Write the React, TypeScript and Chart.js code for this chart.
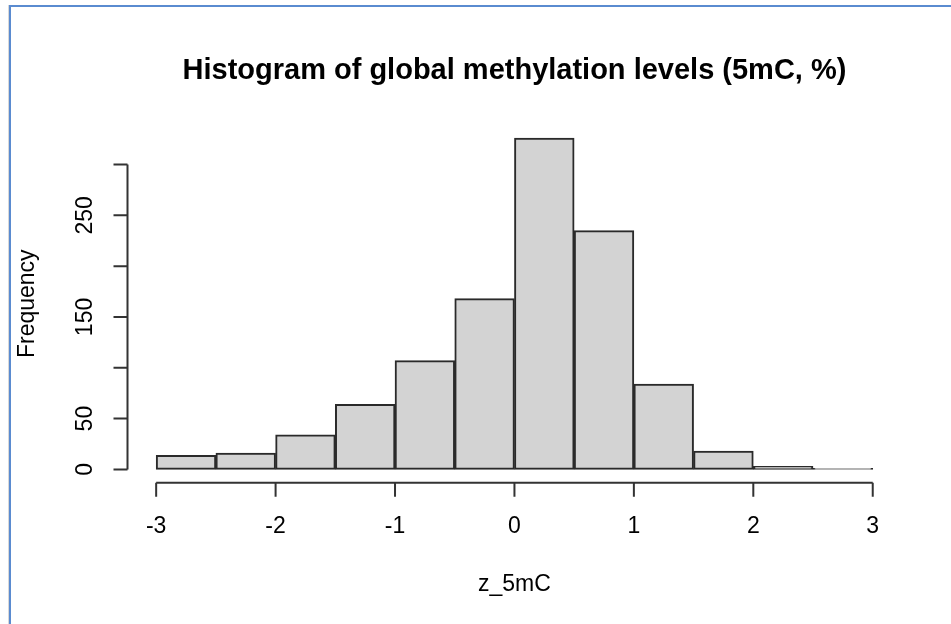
import React, { useEffect, useRef } from "react";
import { Chart, registerables } from "chart.js";

Chart.register(...registerables);

const chartTitle = "Histogram of global methylation levels (5mC, %)";
const xAxisTitle = "z_5mC";
const yAxisTitle = "Frequency";

const binCenters = [-2.75, -2.25, -1.75, -1.25, -0.75, -0.25, 0.25, 0.75, 1.25, 1.75, 2.25, 2.75];
const counts = [14, 16, 34, 64, 107, 168, 326, 235, 84, 18, 3, 1];

const xTicks = [-3, -2, -1, 0, 1, 2, 3];
const xTickLabels = ["-3", "-2", "-1", "0", "1", "2", "3"];
const yTicks = [0, 50, 100, 150, 200, 250, 300];
const yTickLabels = ["0", "50", "", "150", "", "250", ""];

const FONT = '"Liberation Sans", Arial, Helvetica, sans-serif';

const rAxesPlugin = {
  id: "rAxes",
  afterDraw(chart: any) {
    const ctx = chart.ctx as CanvasRenderingContext2D;
    const xs = chart.scales.x;
    const ys = chart.scales.y;
    const area = chart.chartArea;
    ctx.save();
    ctx.strokeStyle = "#333";
    ctx.lineWidth = 2;
    ctx.fillStyle = "#000";

    // x axis
    const axY = area.bottom;
    ctx.beginPath();
    ctx.moveTo(xs.getPixelForValue(xTicks[0]), axY);
    ctx.lineTo(xs.getPixelForValue(xTicks[xTicks.length - 1]), axY);
    xTicks.forEach((t) => {
      const px = xs.getPixelForValue(t);
      ctx.moveTo(px, axY);
      ctx.lineTo(px, axY + 14);
    });
    ctx.stroke();
    ctx.font = `23px ${FONT}`;
    ctx.textAlign = "center";
    ctx.textBaseline = "middle";
    xTicks.forEach((t, i) => {
      ctx.fillText(xTickLabels[i], xs.getPixelForValue(t), axY + 44);
    });

    // y axis
    const axX = area.left;
    ctx.beginPath();
    ctx.moveTo(axX, ys.getPixelForValue(yTicks[0]));
    ctx.lineTo(axX, ys.getPixelForValue(yTicks[yTicks.length - 1]));
    yTicks.forEach((t) => {
      const py = ys.getPixelForValue(t);
      ctx.moveTo(axX, py);
      ctx.lineTo(axX - 14, py);
    });
    ctx.stroke();
    yTicks.forEach((t, i) => {
      if (!yTickLabels[i]) return;
      ctx.save();
      ctx.translate(axX - 42, ys.getPixelForValue(t));
      ctx.rotate(-Math.PI / 2);
      ctx.fillText(yTickLabels[i], 0, 0);
      ctx.restore();
    });

    // titles
    const cx = (area.left + area.right) / 2;
    const cy = (area.top + area.bottom) / 2;
    ctx.font = `bold 29px ${FONT}`;
    ctx.fillText(chartTitle, cx, 71);
    ctx.font = `23px ${FONT}`;
    ctx.fillText(xAxisTitle, cx, 585);
    ctx.save();
    ctx.translate(28, cy);
    ctx.rotate(-Math.PI / 2);
    ctx.fillText(yAxisTitle, 0, 0);
    ctx.restore();
    ctx.restore();
  },
};

export default function App() {
  const ref = useRef<HTMLCanvasElement | null>(null);
  useEffect(() => {
    if (!ref.current) return;
    const chart = new Chart(ref.current, {
      type: "bar",
      data: {
        datasets: [
          {
            data: binCenters.map((x, i) => ({ x, y: counts[i] })),
            backgroundColor: "#D3D3D3",
            borderColor: "#2a2a2a",
            borderWidth: 2,
            borderSkipped: false,
            barPercentage: 1,
            categoryPercentage: 1,
          },
        ],
      },
      options: {
        animation: false,
        responsive: false,
        maintainAspectRatio: false,
        layout: { padding: { left: 127.5, top: 124.8, right: 49.6, bottom: 141.3 } },
        plugins: { legend: { display: false }, tooltip: { enabled: false }, title: { display: false } },
        scales: {
          x: { type: "linear", min: -3.24, max: 3.24, offset: false, display: false, grid: { display: false } },
          y: { type: "linear", min: -13.04, max: 339.04, display: false, grid: { display: false } },
        },
      },
      plugins: [rAxesPlugin],
    });
    return () => chart.destroy();
  }, []);
  return (
    <div style={{ position: "fixed", left: 0, top: 0, width: 951, height: 624, background: "#fff", overflow: "hidden" }}>
      <canvas ref={ref} width={951} height={624} style={{ position: "absolute", left: 0, top: 0, width: 951, height: 624 }} />
      <div style={{ position: "absolute", left: 8, top: 5, width: 1, height: 619, background: "#d8d8d8" }} />
      <div style={{ position: "absolute", left: 9, top: 5, width: 942, height: 2, background: "#5a8bd0" }} />
      <div style={{ position: "absolute", left: 9, top: 5, width: 2, height: 619, background: "#5a8bd0" }} />
    </div>
  );
}
